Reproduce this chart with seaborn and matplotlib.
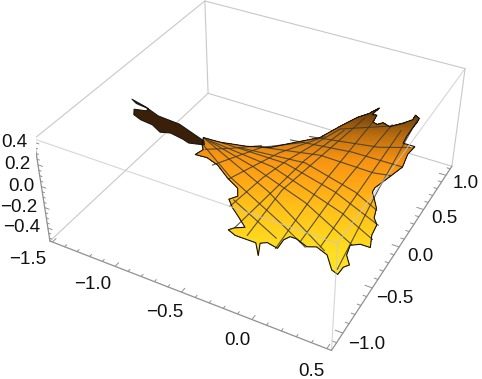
#!/usr/bin/env python3
# Saddle surface with ragged edge, box frame and ticks in 3D
import numpy as np
import matplotlib
matplotlib.use('Agg')
import matplotlib.pyplot as plt
import matplotlib.tri as mtri
from matplotlib.path import Path
from mpl_toolkits.mplot3d import proj3d
from mpl_toolkits.mplot3d.art3d import Poly3DCollection
import seaborn as sns

x_range = (-1.52, 0.53)
y_range = (-1.18, 1.14)
z_range = (-0.53, 0.43)

x_ticks = [-1.5, -1.0, -0.5, 0.0, 0.5]
y_ticks = [-1.0, -0.5, 0.0, 0.5, 1.0]
z_ticks = [-0.4, -0.2, 0.0, 0.2, 0.4]

# ragged edge of the lit part
edge_x = [-.86,-.74,-.57,-.42,-.27,-.14,-.06,.01,.03,.09,.14,.12,.15,.15,.19,.22,.28,.36,.41,.41,.45,.45,.44,.43,.43,.52,.50,.51,.47,.40,.40,.44,.48,.50,.54,.54,.57,.50,.44,.45,.50,.47,.46,.41,.33,.24,.18,.09,.04,.01,0,-.08,-.12,-.09,-.15,-.24,-.30,-.36,-.33,-.27,-.34,-.42,-.47,-.43,-.46,-.56,-.67,-.76,-.84,-.81,-.84]
edge_y = [-.16,-.14,-.08,-.02,.09,.17,.29,.39,.42,.46,.53,.45,.46,.39,.36,.39,.35,.39,.42,.47,.43,.38,.34,.25,.19,.15,.08,-.04,-.11,-.22,-.26,-.33,-.40,-.49,-.55,-.63,-.73,-.71,-.72,-.80,-.88,-.90,-.96,-.93,-.81,-.76,-.77,-.72,-.71,-.74,-.81,-.79,-.81,-.90,-.81,-.80,-.80,-.78,-.75,-.72,-.66,-.60,-.55,-.50,-.44,-.39,-.32,-.30,-.32,-.26,-.22]
edge_z = [.05,.04,.03,.04,.08,.12,.17,.21,.22,.25,.28,.26,.26,.24,.25,.26,.27,.31,.34,.35,.36,.35,.33,.30,.28,.31,.28,.25,.21,.14,.13,.13,.12,.11,.11,.08,.06,.04,.01,-.01,-.01,-.03,-.05,-.06,-.06,-.07,-.09,-.10,-.11,-.13,-.16,-.16,-.17,-.20,-.18,-.19,-.19,-.18,-.17,-.16,-.15,-.13,-.11,-.10,-.08,-.06,-.03,-.01,0,.02,.03]

# dark underside seen almost edge on
dark_x = [-1.40,-1.30,-1.20,-1.05,-.94,-.85,-.83,-.87,-.92,-.97,-1.06,-1.12,-1.19,-1.27,-1.33,-1.35,-1.28,-1.28,-1.36]
dark_y = [-.20,-.19,-.19,-.16,-.17,-.18,-.21,-.24,-.27,-.26,-.27,-.31,-.29,-.31,-.30,-.26,-.21,-.19,-.21]
dark_z = [.24,.20,.15,.11,.07,.04,.03,.04,.05,.06,.09,.10,.13,.16,.18,.20,.18,.19,.22]

# mesh lines, one family rising to the right
mesh_a = [
    ([.44,.43,.44], [-.92,-.24,.42], [-.05,.15,.35]),
    ([.26,.37], [-.75,.32], [-.07,.29]),
    ([.12,.17,.29], [-.74,-.28,.37], [-.10,.05,.28]),
    ([-.01,.04,.15], [-.82,-.29,.39], [-.16,.01,.24]),
    ([-.23,-.18,.08], [-.77,-.35,.42], [-.18,-.04,.23]),
    ([-.33,-.15,-.01], [-.75,-.05,.28], [-.17,.05,.17]),
    ([-.44,-.35,-.26,-.04], [-.60,-.29,-.09,.28], [-.13,-.04,.03,.17]),
    ([-.55,-.34,-.11], [-.40,-.05,.19], [-.06,.04,.13]),
    ([-.70,-.47,-.22], [-.34,-.05,.10], [-.03,.04,.09]),
    ([-.80,-.66,-.48], [-.25,-.15,-.03], [.02,.02,.04]),
]
# and the other family falling to the right
mesh_b = [
    ([-.44,-.04], [-.54,-.74], [-.11,-.14]),
    ([-.83,-.55,-.07,.17], [-.22,-.37,-.61,-.77], [.03,-.06,-.11,-.10]),
    ([-.86,-.26,.30], [-.16,-.39,-.78], [.05,-.06,-.06]),
    ([-.86,-.46,.01,.45], [-.16,-.22,-.41,-.72], [.05,-.02,-.03,.02]),
    ([-.81,-.33,.28,.56], [-.16,-.18,-.46,-.67], [.04,0,.03,.08]),
    ([-.73,-.26,.16,.55], [-.14,-.12,-.28,-.55], [.04,.02,.04,.11]),
    ([-.61,-.14,.29,.49], [-.12,-.07,-.27,-.42], [.03,.04,.09,.12]),
    ([-.48,-.07,.34,.47], [-.05,.02,-.09,-.12], [.04,.08,.16,.21]),
    ([-.32,.13,.51], [.09,.08,-.04], [.08,.15,.25]),
    ([-.21,.28,.49], [.16,.15,.15], [.11,.21,.29]),
    ([-.04,.12,.28,.37], [.28,.32,.36,.39], [.17,.22,.27,.31]),
]

sns.set_theme(style='white')
plt.rcParams['font.family'] = ['Liberation Sans', 'DejaVu Sans']
surface_cmap = sns.blend_palette(['#70400a', '#c0700f', '#f59212', '#ffa516', '#ffbc1a', '#ffce1c', '#ffde20', '#ffe525'], as_cmap=True)

fig = plt.figure(figsize=(4.82, 3.79), dpi=100)
ax = fig.add_axes([35.74/482, 0.83/379, 437.12/482, 437.12/379], projection='3d', computed_zorder=False)
ax.set_xlim(x_range)
ax.set_ylim(y_range)
ax.set_zlim(z_range)
ax.view_init(elev=36.07, azim=-61.64)
ax.set_box_aspect((1, .997, .4025))
ax.set_proj_type('persp', focal_length=.441)
ax.autoscale(False)
ax.set_axis_off()
proj = ax.get_proj()
scale = 2362.8  # pixels per projected unit
mid_u, mid_v = 260.2, 153.7

x0, x1 = x_range
y0, y1 = y_range
z0, z1 = z_range
light = '#c8c8c8'
axis_grey = '#909090'

# box edges behind the surface
for a, b in [((x0,y0,z1),(x0,y1,z1)), ((x0,y1,z1),(x1,y1,z1)), ((x1,y1,z1),(x1,y1,z0)), ((x0,y1,z0),(x0,y1,z1)),
             ((x0,y1,z0),(x1,y1,z0)), ((x0,y0,z0),(x0,y1,z0))]:
    ax.plot(*zip(a, b), color=light, lw=.8, zorder=1)

# triangles over edge points and mesh points, cut to the edge
outline = Path(np.c_[edge_x, edge_y])
seen = {}
for px, py, pz in zip(edge_x, edge_y, edge_z):
    seen[(px, py)] = pz
for lx, ly, lz in mesh_a + mesh_b:
    for px, py, pz in zip(lx, ly, lz):
        if outline.contains_point((px, py)):
            seen.setdefault((px, py), pz)
pts = np.array([(k[0], k[1], v) for k, v in seen.items()])
tri = mtri.Triangulation(pts[:, 0], pts[:, 1])
mid = pts[:, :2][tri.triangles].mean(axis=1)
keep = tri.triangles[outline.contains_points(mid)]
tri = mtri.Triangulation(pts[:, 0], pts[:, 1], triangles=keep)
refiner = mtri.UniformTriRefiner(tri)
fine, fine_z = refiner.refine_field(pts[:, 2], mtri.LinearTriInterpolator(tri, pts[:, 2]), subdiv=4)

verts = np.dstack([fine.x[fine.triangles], fine.y[fine.triangles], fine_z[fine.triangles]])
sx, sy, _ = proj3d.proj_transform(verts[:, :, 0].ravel(), verts[:, :, 1].ravel(), verts[:, :, 2].ravel(), proj)
sx = sx.reshape(-1, 3).mean(axis=1)
sy = sy.reshape(-1, 3).mean(axis=1)
# colours run with height on the picture, a bit lighter to the left
height = mid_v - scale*sy + .05*(300 - (mid_u + scale*sx))
shade = np.clip((height - 110)/165, 0, 1)
faces = Poly3DCollection(verts, facecolors=surface_cmap(shade), edgecolors='none', linewidths=0, zorder=2, antialiased=False)
ax.add_collection3d(faces, autolim=False)

under = Poly3DCollection([np.c_[dark_x, dark_y, dark_z]], facecolors='#3a2008', edgecolors='#111111', linewidths=.7, zorder=3)
ax.add_collection3d(under, autolim=False)

for lx, ly, lz in mesh_a + mesh_b:
    ax.plot(lx, ly, lz, color='#3d3a2c', lw=.8, alpha=.85, zorder=4)
ax.plot(edge_x + edge_x[:1], edge_y + edge_y[:1], edge_z + edge_z[:1], color='#111111', lw=.8, zorder=5)

# box edges drawn over it
for a, b in [((x0,y0,z1),(x1,y0,z1)), ((x1,y0,z1),(x1,y1,z1)), ((x1,y0,z0),(x1,y0,z1))]:
    ax.plot(*zip(a, b), color=light, lw=.8, alpha=.75, zorder=6)
# the three axis edges
for a, b in [((x0,y0,z0),(x1,y0,z0)), ((x1,y0,z0),(x1,y1,z0)), ((x0,y0,z0),(x0,y0,z1))]:
    ax.plot(*zip(a, b), color=axis_grey, lw=.9, zorder=6)

# ticks
for t in np.arange(-1.5, 0.55, 0.1):
    major = any(abs(t - m) < 1e-6 for m in x_ticks)
    ax.plot([t, t], [y0, y0 + (.045 if major else .025)], [z0, z0], color=axis_grey, lw=.7, zorder=6)
for t in np.arange(-1.1, 1.15, 0.1):
    major = any(abs(t - m) < 1e-6 for m in y_ticks)
    ax.plot([x1, x1 - (.05 if major else .025)], [t, t], [z0, z0], color=axis_grey, lw=.7, zorder=6)
for t in np.arange(-0.5, 0.43, 0.05):
    major = any(abs(t - m) < 1e-6 for m in z_ticks)
    ax.plot([x0, x0 + (.035 if major else .018)], [y0, y0], [t, t], color=axis_grey, lw=.7, zorder=6)


def put_label(x, y, z, value, shift_u=0, shift_v=0, ha='center'):
    sx, sy, _ = proj3d.proj_transform(x, y, z, proj)
    ax.text2D(sx + shift_u/scale, sy - shift_v/scale, f'{value:.1f}'.replace('-', '\u2212'), transform=ax.transData,
              fontsize=13.5, color='#111111', ha=ha, va='center', zorder=7)


for t, shift in zip(x_ticks, [0, 1, 5, 6, 3]):
    put_label(t, y0 - .28, z0 + .05, t, shift_u=shift)
for t in y_ticks:
    put_label(x1 + .175, t, z0 + .03, t, shift_u=-4, shift_v=4)
for t in z_ticks:
    put_label(x0 - .045, y0, t - .02, t, shift_u=-2, ha='right')

fig.savefig('out.png')
